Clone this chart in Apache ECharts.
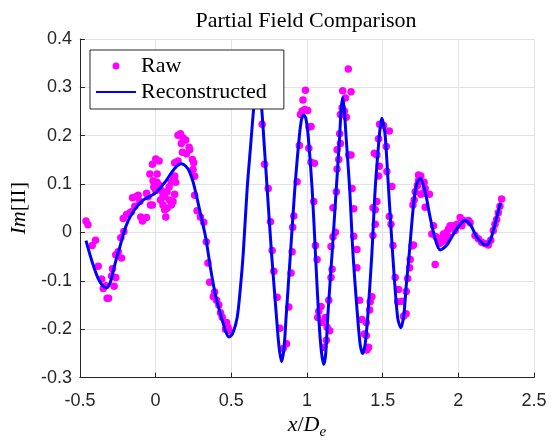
<!DOCTYPE html>
<html>
<head>
<meta charset="utf-8">
<script src="https://cdn.jsdelivr.net/npm/echarts@6/dist/echarts.min.js"></script>
<style>
  html, body { margin: 0; padding: 0; background: #fff; }
  #chart { width: 552px; height: 445px; }
</style>
</head>
<body>
<div id="chart"></div>
<script>
// ---- Data ----
const titleText = 'Partial Field Comparison';
const seriesNames = ['Raw', 'Reconstructed'];

const xTicks = [-0.5, 0, 0.5, 1, 1.5, 2, 2.5];
const xTickLabels = ['-0.5', '0', '0.5', '1', '1.5', '2', '2.5'];
const yTicks = [-0.3, -0.2, -0.1, 0, 0.1, 0.2, 0.3, 0.4];
const yTickLabels = ['-0.3', '-0.2', '-0.1', '0', '0.1', '0.2', '0.3', '0.4'];

// Raw samples (magenta dots)
const rawX = [
  -0.46, -0.447, -0.397, -0.419, -0.379, -0.357, -0.346, -0.32, -0.311, -0.329,
  -0.291, -0.285, -0.274, -0.263, -0.263, -0.247, -0.225, -0.23, -0.21, -0.214,
  -0.192, -0.17, -0.16, -0.153, -0.131, -0.115, -0.137, -0.104, -0.098, -0.087,
  -0.06, -0.06, -0.05, -0.034, -0.021, -0.038, -0.021, 0.001, 0.023, 0.01,
  -0.017, 0.01, 0.027, -0.012, 0.001, 0.038, 0.049, 0.06, 0.076, 0.032,
  0.049, 0.06, 0.076, 0.067, 0.089, 0.104, 0.12, 0.126, 0.093, 0.115,
  0.104, 0.133, 0.126, 0.148, 0.164, 0.181, 0.199, 0.17, 0.177, 0.203,
  0.221, 0.225, 0.126, 0.148, 0.243, 0.252, 0.247, 0.258, 0.258, 0.274,
  0.296, 0.318, 0.335, 0.346, 0.357,
  0.39, 0.381, 0.403, 0.418, 0.429, 0.44, 0.469, 0.478, 0.462, 0.484,
  0.704, 0.72, 0.744, 0.759, 0.77, 0.781, 0.803, 0.821, 0.843, 0.865,
  0.88, 0.895, 0.902, 0.906, 0.913, 0.935, 0.95, 0.957, 0.968, 0.986,
  1.005, 0.974, 0.99, 1.014, 1.027, 1.012, 1.027, 1.049, 1.056, 1.067, 1.071,
  1.045, 1.078, 1.093, 1.1, 1.122, 1.133, 1.15, 1.128, 1.11, 1.144,
  1.159, 1.166, 1.159, 1.172, 1.188, 1.172, 1.194, 1.199, 1.21, 1.199,
  1.221, 1.216, 1.221, 1.232, 1.247, 1.236, 1.291, 1.254, 1.273, 1.26,
  1.276, 1.291, 1.298, 1.309, 1.309, 1.33, 1.33, 1.348, 1.363, 1.379,
  1.392, 1.407, 1.396, 1.392, 1.414, 1.429, 1.418, 1.436, 1.451, 1.436,
  1.451, 1.462, 1.445, 1.462, 1.478, 1.473, 1.473, 1.48, 1.506, 1.544,
  1.524, 1.528, 1.561, 1.544, 1.555, 1.568, 1.583, 1.605, 1.599, 1.627,
  1.638, 1.655, 1.656, 1.665, 1.678, 1.682, 1.693, 1.7, 1.708, 1.737, 1.715,
  1.704, 1.73, 1.737, 1.752, 1.774, 1.781, 1.752, 1.77, 1.809, 1.781,
  1.836, 1.825, 1.853, 1.869, 1.875, 1.891, 1.847, 1.902, 1.924, 1.935,
  1.946, 1.968, 1.979, 1.913, 1.935, 2.012, 2.034, 2.067, 2.078, 1.99,
  2.023, 2.11, 2.132, 2.154, 2.176, 2.198, 2.214, 2.231, 2.242, 2.253,
  2.264, 2.275, 2.286
];
const rawY = [
  0.024, 0.016, -0.016, -0.027, -0.070, -0.096, -0.116, -0.136, -0.136, -0.110,
  -0.090, -0.075, -0.111, -0.093, -0.046, -0.040, -0.053, -0.011, 0.002, 0.029,
  0.037, 0.041, 0.043, 0.072, 0.074, 0.077, 0.054, 0.064, 0.032, 0.024,
  0.031, 0.081, 0.074, 0.057, 0.057, 0.121, 0.141, 0.152, 0.148, 0.121,
  0.107, 0.104, 0.097, 0.094, 0.087, 0.087, 0.077, 0.074, 0.084, 0.067,
  0.057, 0.047, 0.05, 0.032, 0.094, 0.104, 0.111, 0.079, 0.067, 0.064,
  0.057, 0.104, 0.117, 0.201, 0.204, 0.196, 0.191, 0.184, 0.166, 0.163,
  0.176, 0.171, 0.144, 0.148, 0.151, 0.144, 0.13, 0.116, 0.077, 0.045,
  0.032, 0.021, -0.019, -0.063, -0.103,
  -0.123, -0.133, -0.14, -0.15, -0.166, -0.175, -0.186, -0.196, -0.20, -0.203,
  0.224, 0.141, 0.091, 0.022, -0.037, -0.08, -0.134, -0.198, -0.24, -0.23,
  -0.154, -0.084, -0.04, 0.011, 0.034, 0.105, 0.18, 0.244, 0.251, 0.254,
  0.252, 0.274, 0.294, 0.218, 0.219, 0.174, 0.145, 0.143, -0.027, -0.056, -0.176,
  0.064, -0.163, -0.153, -0.186, -0.176, -0.196, -0.203, -0.223, -0.237, -0.14,
  -0.093, -0.076, -0.029, -0.009, 0.0005, 0.051, 0.084, 0.131, 0.151, 0.171,
  0.184, 0.204, 0.244, 0.258, 0.251, 0.293, 0.291, 0.278, 0.338, 0.238,
  0.16, 0.16, 0.091, 0.049, -0.008, -0.035, -0.073, -0.14, -0.18, -0.21,
  -0.213, -0.237, -0.243, -0.186, -0.16, -0.133, -0.143, -0.006, 0.017, 0.051,
  0.047, 0.064, 0.164, 0.16, 0.137, 0.117, 0.194, 0.224, 0.221, 0.21,
  0.178, 0.126, 0.095, 0.033, 0.017, -0.027, -0.093, -0.118, -0.143, -0.142,
  -0.173, -0.168, -0.122, -0.095, -0.073, -0.056, -0.028, 0.057, 0.067, 0.119, 0.084,
  -0.026, 0.097, 0.107, 0.117, 0.104, 0.091, 0.079, 0.081, 0.079, 0.052,
  0.014, -0.003, -0.009, -0.013, -0.023, -0.019, -0.066, -0.003, 0.0005, 0.007,
  0.014, 0.014, 0.004, -0.016, -0.009, 0.031, 0.025, 0.025, 0.02, 0.017,
  0.014, -0.006, -0.013, -0.02, -0.023, -0.026, -0.016, 0.004, 0.017, 0.027,
  0.041, 0.054, 0.069
];

// Reconstructed field (blue line)
const reconX = [
  -0.46, -0.42, -0.38, -0.35, -0.324, -0.30, -0.28, -0.26, -0.236, -0.21,
  -0.18, -0.15, -0.12, -0.09, -0.06, -0.03, 0.0, 0.03, 0.07, 0.11,
  0.14, 0.17, 0.20, 0.225, 0.25, 0.285, 0.33, 0.364, 0.396, 0.43,
  0.462, 0.484, 0.51, 0.539, 0.56, 0.579, 0.605, 0.628, 0.649, 0.662,
  0.675, 0.688, 0.70, 0.72, 0.737, 0.766, 0.799, 0.815, 0.832, 0.848,
  0.862, 0.891, 0.92, 0.95, 0.965, 0.979, 0.993, 1.008, 1.034, 1.056,
  1.078, 1.095, 1.111, 1.124, 1.137, 1.166, 1.194, 1.216, 1.226, 1.236,
  1.246, 1.258, 1.282, 1.304, 1.335, 1.352, 1.368, 1.384, 1.401, 1.429,
  1.451, 1.478, 1.487, 1.495, 1.505, 1.517, 1.539, 1.566, 1.599, 1.621,
  1.64, 1.656, 1.676, 1.704, 1.725, 1.748, 1.781, 1.814, 1.847, 1.88,
  1.924, 1.968, 2.012, 2.04, 2.078, 2.121, 2.165, 2.183, 2.21, 2.242,
  2.275, 2.282
];
const reconY = [
  -0.017, -0.06, -0.095, -0.11, -0.114, -0.104, -0.08, -0.055, -0.03, 0.0,
  0.025, 0.042, 0.055, 0.065, 0.071, 0.076, 0.082, 0.092, 0.107, 0.126,
  0.137, 0.142, 0.137, 0.125, 0.102, 0.055, -0.009, -0.076, -0.13, -0.17,
  -0.203, -0.216, -0.208, -0.176, -0.115, -0.043, 0.091, 0.18, 0.26, 0.29,
  0.30, 0.29, 0.26, 0.17, 0.091, -0.043, -0.176, -0.235, -0.267, -0.24,
  -0.176, -0.043, 0.091, 0.2, 0.235, 0.243, 0.235, 0.2, 0.091, -0.043,
  -0.176, -0.245, -0.273, -0.25, -0.176, -0.043, 0.091, 0.2, 0.255, 0.279,
  0.255, 0.2, 0.091, -0.043, -0.176, -0.232, -0.25, -0.232, -0.176, -0.043,
  0.091, 0.2, 0.225, 0.236, 0.225, 0.2, 0.091, -0.043, -0.176, -0.197,
  -0.17, -0.11, -0.043, 0.057, 0.1, 0.112, 0.084, 0.031, -0.013, -0.036,
  -0.026, -0.003, 0.017, 0.025, 0.017, -0.009, -0.024, -0.026, -0.017, 0.017,
  0.057, 0.061
];

// ---- Build chart ----
const rawData = rawX.map((x, i) => [x, rawY[i]]);
const reconData = reconX.map((x, i) => [x, reconY[i]]);
const xStep = Math.round((xTicks[1] - xTicks[0]) * 1e6) / 1e6;
const yStep = Math.round((yTicks[1] - yTicks[0]) * 1e6) / 1e6;

const AX = '#262626';
const GRID = '#e3e3e3';
const SANS = '"Liberation Sans", Arial, Helvetica, sans-serif';
const SERIF = '"Liberation Serif", "Times New Roman", serif';

const chart = echarts.init(document.getElementById('chart'), null, { renderer: 'canvas' });
chart.setOption({
  animation: false,
  backgroundColor: '#ffffff',
  title: {
    text: titleText,
    left: 306, top: 10, padding: 0,
    textAlign: 'center',
    textStyle: { fontFamily: SERIF, fontSize: 22, fontWeight: 'normal', color: '#000' }
  },
  grid: { left: 79, right: 18, top: 39, bottom: 57, containLabel: false },
  legend: {
    orient: 'vertical',
    left: 90, top: 50,
    z: 10,
    padding: [5, 17, 6, 5],
    backgroundColor: '#ffffff',
    borderColor: AX, borderWidth: 1, borderRadius: 0,
    itemWidth: 40, itemHeight: 7, itemGap: 4,
    textStyle: { fontFamily: SERIF, fontSize: 22, color: '#000', lineHeight: 22 },
    data: [
      { name: seriesNames[0], icon: 'circle' },
      { name: seriesNames[1], icon: 'inherit', itemStyle: { opacity: 0 } }
    ]
  },
  xAxis: {
    type: 'value',
    min: xTicks[0], max: xTicks[xTicks.length - 1], interval: xStep,
    name: '{i|x}/{i|D}{s|e}',
    nameLocation: 'middle', nameGap: 31,
    nameTextStyle: {
      fontFamily: SERIF, fontSize: 22, color: '#000',
      rich: {
        i: { fontFamily: SERIF, fontSize: 22, fontStyle: 'italic', color: '#000' },
        s: { fontFamily: SERIF, fontSize: 15, fontStyle: 'italic', color: '#000', padding: [14, 0, 0, 0] }
      }
    },
    axisLine: { show: true, onZero: false, lineStyle: { color: AX, width: 1 } },
    axisTick: { show: true, inside: true, length: 5, lineStyle: { color: AX, width: 1 } },
    axisLabel: {
      margin: 14, fontFamily: SANS, fontSize: 18, color: AX,
      formatter: v => xTickLabels[Math.round((v - xTicks[0]) / xStep)]
    },
    splitLine: { show: true, lineStyle: { color: GRID, width: 1 } }
  },
  yAxis: {
    type: 'value',
    min: yTicks[0], max: yTicks[yTicks.length - 1], interval: yStep,
    name: '{i|Im}[II]',
    nameLocation: 'middle', nameGap: 47, nameRotate: 90,
    nameTextStyle: {
      fontFamily: SERIF, fontSize: 22, color: '#000',
      rich: {
        i: { fontFamily: SERIF, fontSize: 22, fontStyle: 'italic', color: '#000' }
      }
    },
    axisLine: { show: true, onZero: false, lineStyle: { color: AX, width: 1 } },
    axisTick: { show: true, inside: true, length: 5, lineStyle: { color: AX, width: 1 } },
    axisLabel: {
      margin: 8, fontFamily: SANS, fontSize: 18, color: AX,
      formatter: v => yTickLabels[Math.round((v - yTicks[0]) / yStep)]
    },
    splitLine: { show: true, lineStyle: { color: GRID, width: 1 } }
  },
  series: [
    {
      name: seriesNames[0],
      type: 'scatter',
      data: rawData,
      symbol: 'circle',
      symbolSize: 7.5,
      itemStyle: { color: '#ff00ff', opacity: 1 },
      z: 2
    },
    {
      name: seriesNames[1],
      type: 'line',
      data: reconData,
      showSymbol: false,
      symbol: 'none',
      smooth: 0.3,
      lineStyle: { color: '#0000ff', width: 3 },
      itemStyle: { color: '#0000ff' },
      z: 3
    }
  ]
});
</script>
</body>
</html>
